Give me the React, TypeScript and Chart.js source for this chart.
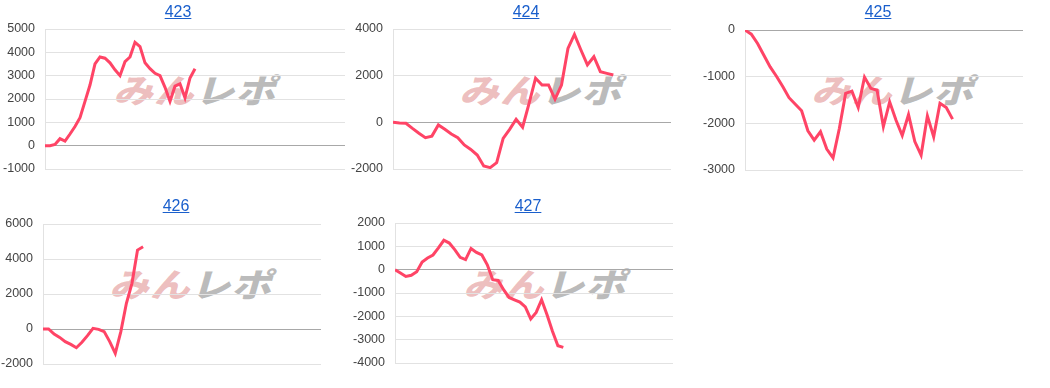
import React, { useEffect, useRef } from "react";
import { Chart, registerables } from "chart.js";

Chart.register(...registerables);

// ---- data ----
const titles = ["423", "424", "425", "426", "427"];

const v423 = [0, 0, 50, 300, 200, 500, 820, 1200, 1900, 2600, 3500, 3800, 3750, 3550, 3250, 3000, 3600, 3800, 4430, 4250, 3550, 3300, 3100, 3000, 2500, 1900, 2550, 2650, 2050, 2900, 3300];
const v424 = [0, -30, -40, -260, -470, -660, -590, -110, -300, -500, -660, -970, -1160, -1400, -1870, -1940, -1730, -690, -300, 130, -210, 810, 1890, 1600, 1600, 990, 1600, 3170, 3770, 3100, 2460, 2810, 2170, 2100, 2030];
const v425 = [0, -90, -290, -540, -790, -990, -1210, -1450, -1590, -1730, -2160, -2360, -2180, -2550, -2740, -2110, -1360, -1310, -1660, -1010, -1250, -1290, -2070, -1540, -1930, -2260, -1810, -2390, -2680, -1840, -2290, -1570, -1660, -1910];
const v426 = [0, 0, -290, -480, -720, -880, -1070, -760, -380, 40, -20, -150, -720, -1390, -150, 1470, 2610, 4510, 4700];
const v427 = [0, -140, -290, -240, -90, 330, 500, 630, 930, 1260, 1140, 860, 530, 430, 910, 740, 630, 210, -430, -460, -860, -1190, -1290, -1390, -1600, -2110, -1830, -1290, -1930, -2640, -3260, -3330];

const seriesList = [v423, v424, v425, v426, v427];
const xMaxList = [60, 42.9, 44.2, 50, 51.2];
const yMinList = [-1000, -2000, -3000, -2000, -4000];
const yMaxList = [5000, 4000, 0, 6000, 2000];
const yStepList = [1000, 2000, 1000, 2000, 1000];

// ---- layout ----
const plotBoxes = [
  { left: 45, top: 29, width: 300, height: 140, tx: 178, ty: 12, wx: 112, wy: 71 },
  { left: 393, top: 29, width: 278, height: 140, tx: 526, ty: 12, wx: 458, wy: 71 },
  { left: 745, top: 30, width: 278, height: 140, tx: 878, ty: 12, wx: 810, wy: 71 },
  { left: 43, top: 224, width: 278, height: 140, tx: 176, ty: 206, wx: 108, wy: 265 },
  { left: 395, top: 223, width: 278, height: 140, tx: 528, ty: 206, wx: 462, wy: 265 },
];

const AXIS_W = 60;
const PAD_V = 22;

function Panel({ idx }: { idx: number }) {
  const ref = useRef<HTMLCanvasElement | null>(null);
  const box = plotBoxes[idx];
  useEffect(() => {
    if (!ref.current) return;
    const values = seriesList[idx];
    const chart = new Chart(ref.current, {
      type: "line",
      data: {
        datasets: [
          {
            data: values.map((v, i) => ({ x: i, y: v })),
            borderColor: "#ff4466",
            borderWidth: 3,
            pointRadius: 0,
            tension: 0,
            fill: false,
          },
        ],
      },
      options: {
        animation: false,
        responsive: false,
        maintainAspectRatio: false,
        layout: { padding: { top: PAD_V, bottom: PAD_V, left: 0, right: 2 } },
        plugins: { legend: { display: false }, tooltip: { enabled: false }, title: { display: false } },
        scales: {
          x: { type: "linear", min: 0, max: xMaxList[idx], display: false },
          y: {
            min: yMinList[idx],
            max: yMaxList[idx],
            ticks: {
              stepSize: yStepList[idx],
              padding: 10,
              color: "#444",
              font: { family: "'Liberation Sans', Arial, sans-serif", size: 12.5 },
              callback: (v: any) => String(v),
            },
            grid: {
              drawTicks: false,
              color: (ctx: any) => (ctx.tick && ctx.tick.value === 0 ? "#a8a8a8" : "#e2e2e2"),
              lineWidth: 1,
            },
            border: { display: true, color: "#e2e2e2" },
            afterFit: (s: any) => {
              s.width = AXIS_W;
            },
          },
        },
      },
    });
    return () => chart.destroy();
  }, [idx]);

  const cw = AXIS_W + box.width + 2;
  const ch = box.height + PAD_V * 2;
  return (
    <>
      <div
        style={{
          position: "absolute",
          left: box.wx,
          top: box.wy,
          width: 170,
          height: 36,
          whiteSpace: "nowrap",
          fontFamily: "'Noto Sans CJK JP', sans-serif",
          fontWeight: 900,
          fontSize: 33,
          lineHeight: "36px",
          transformOrigin: "left bottom",
          transform: "skewX(-16deg) scaleX(1.2)",
          letterSpacing: 1,
        }}
      >
        <span style={{ color: "rgba(215,110,110,0.45)" }}>みん</span>
        <span style={{ color: "rgba(120,120,120,0.5)" }}>レポ</span>
      </div>
      <canvas
        ref={ref}
        width={cw}
        height={ch}
        style={{
          position: "absolute",
          left: box.left - AXIS_W,
          top: box.top - PAD_V,
          width: cw,
          height: ch,
        }}
      />
      <a
        href="#"
        style={{
          position: "absolute",
          left: box.tx,
          top: box.ty,
          transform: "translate(-50%, -50%)",
          color: "#1a5fcc",
          textDecoration: "underline",
          fontFamily: "'Liberation Sans', Arial, sans-serif",
          fontSize: 16,
          lineHeight: "18px",
        }}
      >
        {titles[idx]}
      </a>
    </>
  );
}

export default function App() {
  return (
    <div style={{ position: "absolute", left: 0, top: 0, width: 1050, height: 388, background: "#fff", overflow: "hidden" }}>
      {titles.map((_, i) => (
        <Panel key={i} idx={i} />
      ))}
    </div>
  );
}
